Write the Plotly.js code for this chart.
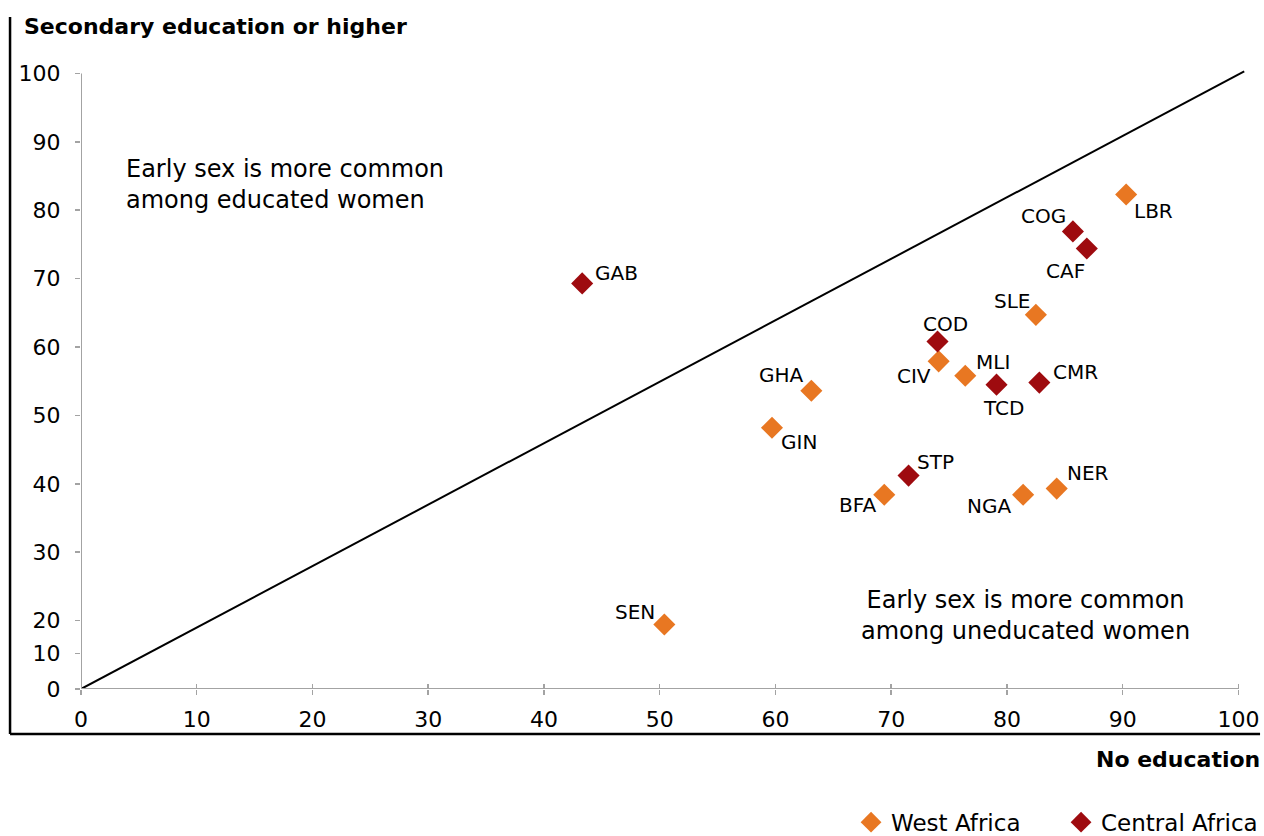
<!DOCTYPE html>
<html>
<head>
<meta charset="utf-8">
<script src="https://cdn.plot.ly/plotly-3.0.1.min.js"></script>
<style>html,body{margin:0;padding:0;background:#fff;}#chart{width:1264px;height:836px;}</style>
</head>
<body>
<div id="chart"></div>
<script>
// ---- Data ----
const westCodes = ["LBR", "SLE", "CIV", "MLI", "GHA", "GIN", "BFA", "NGA", "NER", "SEN"];
const westNoEdu = [90.3, 82.5, 74.1, 76.4, 63.1, 59.7, 69.4, 81.4, 84.3, 50.4];
const westSecondary = [82.3, 64.7, 57.9, 55.8, 53.6, 48.2, 38.4, 38.4, 39.3, 18.8];

const centralCodes = ["GAB", "COG", "CAF", "COD", "TCD", "CMR", "STP"];
const centralNoEdu = [43.3, 85.7, 86.9, 74.0, 79.1, 82.8, 71.5];
const centralSecondary = [69.3, 76.9, 74.4, 60.8, 54.5, 54.8, 41.2];

const xTickVals = [0, 10, 20, 30, 40, 50, 60, 70, 80, 90, 100];
const yTickVals = [0, 10, 20, 30, 40, 50, 60, 70, 80, 90, 100];
const diagonalX = [0, 100.5];
const diagonalY = [0, 100.3];

// label offsets (pixels: dx right, dy down) – styling only
const westLabelOffsets = {LBR:[27,17], SLE:[-24,-14], CIV:[-25,15], MLI:[28,-14], GHA:[-30,-16], GIN:[27,14], BFA:[-27,10], NGA:[-34,11], NER:[31,-16], SEN:[-29,-13]};
const centralLabelOffsets = {GAB:[34,-10], COG:[-29,-15], CAF:[-21,22], COD:[8,-18], TCD:[7,23], CMR:[36,-11], STP:[27,-14]};

// The original y axis is compressed between 0 and 20 (0 and 10 sit closer together)
function yPos(v) {
  if (v >= 20) return v;
  if (v >= 10) return 15.2 + (v - 10) * 0.48;
  return 10 + v * 0.52;
}

const WEST = "#E87722";
const CENTRAL = "#9E0B0F";
const GRAY = "#A3A3A3";
const FONT = "DejaVu Sans";

const traces = [
  {x: diagonalX, y: diagonalY.map(yPos), mode: "lines", line: {color: "#000", width: 2}, showlegend: false, hoverinfo: "skip"},
  {x: westNoEdu, y: westSecondary.map(yPos), mode: "markers", name: "West Africa",
   marker: {symbol: "diamond", size: 17, color: WEST}, text: westCodes},
  {x: centralNoEdu, y: centralSecondary.map(yPos), mode: "markers", name: "Central Africa",
   marker: {symbol: "diamond", size: 17, color: CENTRAL}, text: centralCodes},
  {x: [0], y: [yPos(0)], xaxis: "x2", mode: "markers", marker: {opacity: 0}, showlegend: false, hoverinfo: "skip"}
];

const annotations = [];
function addLabels(codes, xs, ys, offs) {
  codes.forEach((c, i) => {
    annotations.push({x: xs[i], y: yPos(ys[i]), xref: "x", yref: "y", text: c, showarrow: false,
      xshift: offs[c][0], yshift: -offs[c][1], font: {family: FONT, size: 20, color: "#000"}});
  });
}
addLabels(westCodes, westNoEdu, westSecondary, westLabelOffsets);
addLabels(centralCodes, centralNoEdu, centralSecondary, centralLabelOffsets);

annotations.push(
  {xref: "paper", yref: "paper", x: -0.0505, y: 1.0695, xanchor: "left", yanchor: "middle", showarrow: false,
   text: "<b>Secondary education or higher</b>", font: {family: FONT, size: 22, color: "#000"}},
  {xref: "paper", yref: "paper", x: 1.0103, y: -0.1131, xanchor: "right", yanchor: "middle", showarrow: false,
   text: "<b>No education</b>", font: {family: FONT, size: 22, color: "#000"}},
  {xref: "x", yref: "y", x: 3.7, y: 83.8, xanchor: "left", yanchor: "middle", align: "left", showarrow: false,
   text: "Early sex is more common<br>among educated women", font: {family: FONT, size: 24, color: "#000"}},
  {xref: "x", yref: "y", x: 81.6, y: 20.8, xanchor: "center", yanchor: "middle", align: "center", showarrow: false,
   text: "Early sex is more common<br>among uneducated women", font: {family: FONT, size: 24, color: "#000"}}
);

const shapes = [
  // gray axis lines
  {type: "line", xref: "x", yref: "y", x0: 0, x1: 100, y0: yPos(0), y1: yPos(0), line: {color: GRAY, width: 2}},
  {type: "line", xref: "x", yref: "y", x0: 0, x1: 0, y0: yPos(0), y1: yPos(100), line: {color: GRAY, width: 2}},
  // outer black frame
  {type: "line", xref: "paper", yref: "paper", x0: -0.0607, x1: -0.0607, y0: 1.0856, y1: -0.0727, line: {color: "#000", width: 2.5}},
  {type: "line", xref: "paper", yref: "paper", x0: -0.0607, x1: 1.0086, y0: -0.0727, y1: -0.0727, line: {color: "#000", width: 2.5}}
];

const layout = {
  width: 1264, height: 836,
  margin: {l: 81, r: 14, t: 70, b: 147, autoexpand: false},
  paper_bgcolor: "#fff", plot_bgcolor: "#fff",
  showlegend: true,
  legend: {orientation: "h", xref: "paper", yref: "container", xanchor: "right", x: 1.018, yanchor: "middle", y: 0.0165,
    font: {family: FONT, size: 23, color: "#000"}, bgcolor: "rgba(0,0,0,0)", itemwidth: 30, traceorder: "normal",
    entrywidth: 165, entrywidthmode: "pixels"},
  xaxis: {range: [0, 101], showgrid: false, zeroline: false, showline: false, automargin: false,
    tickvals: xTickVals, ticktext: xTickVals.map(String), ticks: "outside", ticklen: 5, tickwidth: 1.5, tickcolor: GRAY,
    tickfont: {family: FONT, size: 22, color: "#000"}, ticklabelstandoff: 6, fixedrange: true},
  xaxis2: {range: [0, 101], overlaying: "x", side: "bottom", anchor: "y", showgrid: false, zeroline: false, showline: false,
    tickvals: xTickVals, ticks: "inside", ticklen: 5, tickwidth: 1.5, tickcolor: GRAY, showticklabels: false, automargin: false},
  yaxis: {range: [10, 100.5], showgrid: false, zeroline: false, showline: false, automargin: false,
    tickvals: yTickVals.map(yPos), ticktext: yTickVals.map(String), ticks: "outside", ticklen: 5, tickwidth: 1.5, tickcolor: GRAY,
    tickfont: {family: FONT, size: 22, color: "#000"}, ticklabelstandoff: 10, fixedrange: true},
  annotations: annotations,
  shapes: shapes,
  hovermode: false
};

Plotly.newPlot("chart", traces, layout, {displayModeBar: false, staticPlot: true});
</script>
</body>
</html>
